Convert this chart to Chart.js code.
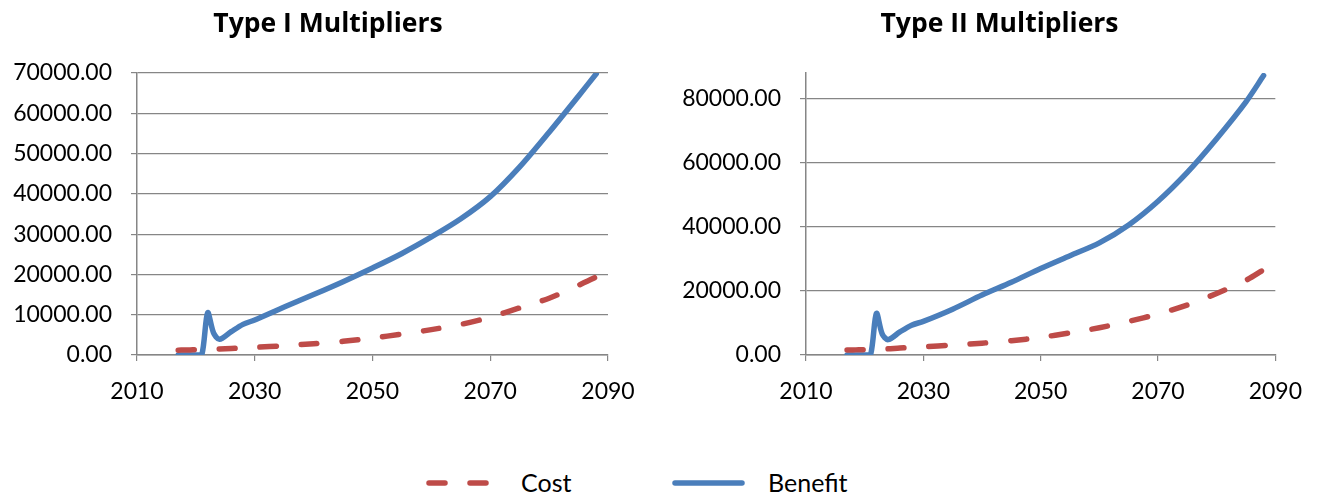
<!DOCTYPE html>
<html><head><meta charset="utf-8">
<script src="https://cdn.jsdelivr.net/npm/chart.js@4.4.1/dist/chart.umd.min.js"></script>
<style>
html,body{margin:0;padding:0;background:#fff;width:1319px;height:494px;overflow:hidden;font-family:Lato,sans-serif}
.box{position:absolute}
.lg{position:absolute;font:25px Lato,sans-serif;color:#000;line-height:1;}
</style></head><body>
<div class="box" style="left:0;top:0;width:656px;height:415px"><canvas id="c1"></canvas></div>
<div class="box" style="left:680px;top:0;width:639px;height:415px"><canvas id="c2"></canvas></div>
<svg class="lg" style="left:420px;top:473px" width="80" height="20"><line x1="429" y1="10" x2="490" y2="10" transform="translate(-420,0)" stroke="#be4b48" stroke-width="5.5" stroke-linecap="round" stroke-dasharray="16 25"/></svg>
<div class="lg" style="left:521px;top:470px">Cost</div>
<svg class="lg" style="left:665px;top:473px" width="90" height="20"><line x1="675" y1="10" x2="742" y2="10" transform="translate(-665,0)" stroke="#4a7ebb" stroke-width="5.5" stroke-linecap="round"/></svg>
<div class="lg" style="left:768px;top:470px">Benefit</div>
<script>
// ---- data ----
const years = [2017, 2018, 2019, 2020, 2021, 2022, 2023, 2024, 2026, 2028, 2030, 2035, 2040, 2045, 2050, 2055, 2060, 2065, 2070, 2075, 2080, 2085, 2088];
const costTypeI = [1200, 1230, 1260, 1300, 1350, 1400, 1450, 1500, 1620, 1750, 1900, 2300, 2800, 3400, 4200, 5200, 6300, 7600, 9400, 11700, 14100, 17300, 19400];
const benefitTypeI = [0, 0, 0, 0, 0, 10500, 5500, 3900, 5800, 7600, 8700, 11900, 15000, 18200, 21600, 25200, 29300, 33800, 39300, 46700, 55300, 64300, 69800];
const costTypeII = [1550, 1580, 1620, 1660, 1700, 1780, 1850, 1920, 2180, 2360, 2550, 3100, 3700, 4450, 5500, 6900, 8500, 10500, 12800, 15600, 19200, 23300, 26600];
const benefitTypeII = [0, 0, 0, 0, 0, 13000, 6500, 4800, 7200, 9300, 10500, 14300, 18700, 22700, 27000, 31000, 35000, 40600, 48000, 57000, 67500, 79000, 87200];
const xTicks = [2010, 2030, 2050, 2070, 2090];
const yTicksI = [0, 10000, 20000, 30000, 40000, 50000, 60000, 70000];
const yTicksII = [0, 20000, 40000, 60000, 80000];
const titles = ['Type I Multipliers', 'Type II Multipliers'];
const seriesNames = ['Cost', 'Benefit'];

const GRID = '#868686';
const FONT = 'Lato, sans-serif';
function pts(vals){ return years.map((y,i)=>({x:y, y:vals[i]})); }

function makeChart(id, title, cost, benefit, yMax, yTicks, yWidth, rightSpace){
  return new Chart(document.getElementById(id), {
    type: 'line',
    data: { datasets: [
      { label: seriesNames[0], data: pts(cost), borderColor: '#be4b48', borderWidth: 5.5, borderDash: [16, 25], borderCapStyle: 'round', pointRadius: 0, tension: 0.3, fill: false },
      { label: seriesNames[1], data: pts(benefit), borderColor: '#4a7ebb', borderWidth: 5.5, borderCapStyle: 'round', borderJoinStyle: 'round', pointRadius: 0, tension: 0.3, fill: false }
    ]},
    options: {
      responsive: true, maintainAspectRatio: false, animation: false,
      layout: { padding: 0 },
      plugins: {
        legend: { display: false }, tooltip: { enabled: false },
        title: { display: true, text: title, color: '#000', font: { family: '"Open Sans", sans-serif', size: 26.5, weight: 'bold', lineHeight: 1.2 }, padding: { top: 8.2, bottom: 33 } }
      },
      scales: {
        x: { type: 'linear', min: 2010, max: 2090,
          afterBuildTicks: s => { s.ticks = xTicks.map(v => ({value: v})); },
          afterFit: s => { s.height = 60; },
          ticks: { color: '#000', font: { family: FONT, size: 23 }, padding: 17, maxRotation: 0, callback: v => String(v) },
          grid: { drawOnChartArea: false, drawTicks: true, tickLength: 6, color: GRID, lineWidth: 1.2 },
          border: { color: GRID, width: 1.5 } },
        y: { min: 0, max: yMax,
          afterBuildTicks: s => { s.ticks = yTicks.map(v => ({value: v})); },
          afterFit: s => { s.width = yWidth; },
          ticks: { color: '#000', font: { family: FONT, size: 23 }, padding: 19, callback: v => Number(v).toFixed(2) },
          grid: { color: GRID, lineWidth: 1.2, tickLength: 6 },
          border: { color: GRID, width: 1.5 } },
        spacer: { type: 'linear', position: 'right', display: true,
          afterFit: s => { s.width = rightSpace; },
          ticks: { display: false }, grid: { display: false }, border: { display: false } }
      }
    }
  });
}
makeChart('c1', titles[0], costTypeI, benefitTypeI, 70000, yTicksI, 137, 48);
makeChart('c2', titles[1], costTypeII, benefitTypeII, 88000, yTicksII, 126, 41);
</script>
</body></html>
